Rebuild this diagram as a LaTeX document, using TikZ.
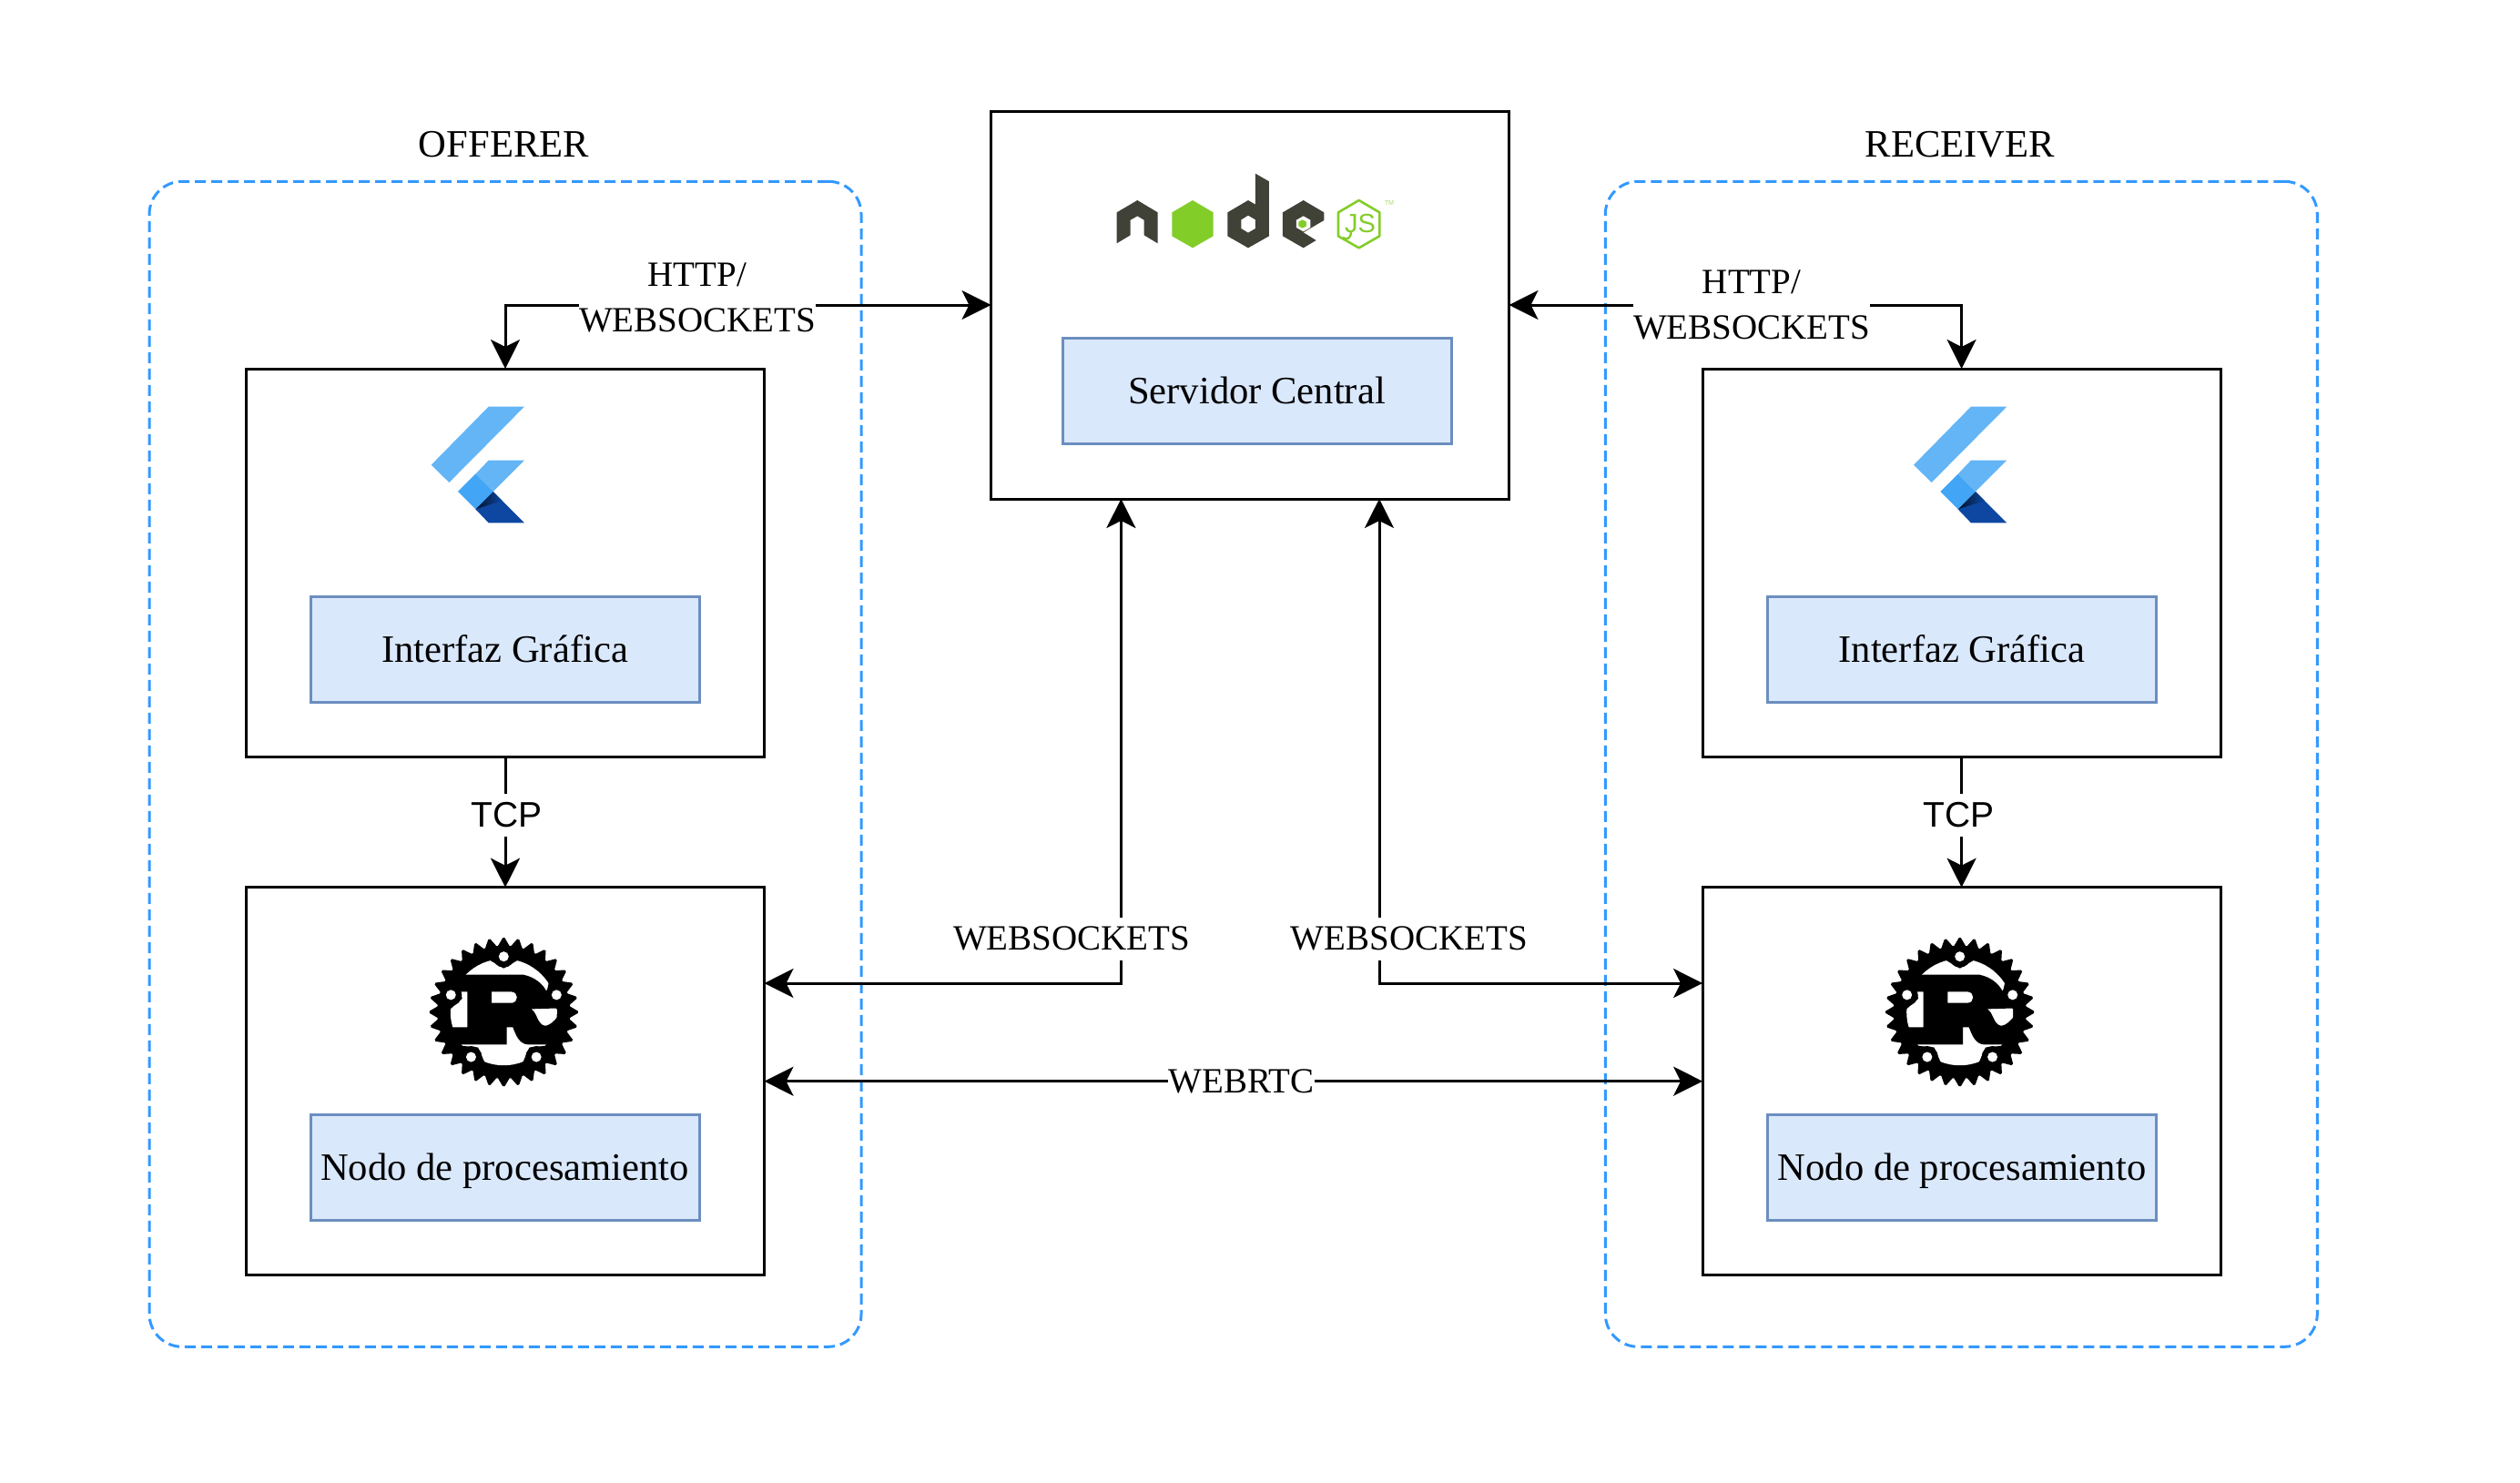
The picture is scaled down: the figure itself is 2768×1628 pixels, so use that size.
\documentclass[tikz,border=0pt]{standalone}
\usepackage{fontspec}
\setmainfont{Liberation Serif}
\newfontfamily\tcpfont{Liberation Sans}
\usetikzlibrary{arrows.meta}
\definecolor{groupblue}{HTML}{3399FF}
\definecolor{innerfill}{HTML}{DAE8FC}
\definecolor{innerdraw}{HTML}{6C8EBF}
\definecolor{flutlight}{HTML}{64B5F6}
\definecolor{flutmid}{HTML}{42A5F5}
\definecolor{flutdark}{HTML}{0D47A1}
\definecolor{nodedark}{HTML}{404137}
\definecolor{nodegreen}{HTML}{83CD29}
\newcommand{\nudge}{\hspace{2.5pt}}
\tikzset{
	outerbox/.style={draw=black, line width=1.5pt, minimum width=284.5pt, minimum height=213pt, inner sep=0pt, outer sep=0pt},
	innerbox/.style={draw=innerdraw, fill=innerfill, line width=1.5pt, minimum width=213.5pt, minimum height=58pt, inner sep=0pt, outer sep=0pt, text height=14.4pt, text depth=0pt, font=\fontsize{21.3}{25}\selectfont},
	groupbox/.style={draw=groupblue, line width=1.5pt, dash pattern=on 6pt off 3pt, rounded corners=18pt, minimum width=391pt, minimum height=640pt, inner sep=0pt, outer sep=0pt},
	grouplabel/.style={font=\fontsize{21.3}{25}\selectfont, inner sep=0pt},
	link/.style={line width=1.5pt, {Stealth[length=16pt,width=16pt,inset=4pt]}-{Stealth[length=16pt,width=16pt,inset=4pt]}},
	onelink/.style={line width=1.5pt, -{Stealth[length=16pt,width=16pt,inset=4pt]}},
	wirelabel/.style={fill=white, align=center, inner xsep=0pt, inner ysep=0pt, minimum height=23.5pt, font=\fontsize{19.5}{24.7}\selectfont},
	flutterlogo/.pic={
		\begin{scope}[scale=0.3333]
			\fill[flutlight] (290,50) -- (408,50) -- (160,300) -- (101,242) -- cycle;
			\fill[flutlight] (290,227) -- (408,227) -- (305,330) -- (247,272) -- cycle;
			\fill[flutdark] (247,388) -- (305,330) -- (408,433) -- (290,433) -- cycle;
			\shade[left color=black!75!flutdark, right color=flutdark] (247,388) -- (305,330) -- (335,360) -- cycle;
			\fill[flutmid] (247,272) -- (305,330) -- (247,388) -- (189,330) -- cycle;
		\end{scope}
	},
	rustlogo/.pic={
		\fill[black] (0,0) circle (73);
		\foreach \a in {0,11.25,...,348.75}
			\fill[black] (\a-5.2:72.5) -- (\a-0.8:81.5) -- (\a+0.8:81.5) -- (\a+5.2:72.5) -- cycle;
		\fill[white] (0,0) circle (58.5);
		\begin{scope}[scale=0.3333, shift={(-190,-185)}]
			% the letter, with its counter left open
			\fill[black, even odd rule] (30,62) -- (255,62) .. controls (295,70) and (320,95) .. (330,115) -- (375,115) -- (375,172) -- (280,175)
				.. controls (300,185) and (300,225) .. (325,230) .. controls (345,230) and (365,205) .. (375,190) -- (400,240) -- (340,292) -- (270,292)
				.. controls (240,290) and (230,260) .. (220,235) -- (200,235) -- (200,292) -- (40,292) -- (0,270) -- (0,235) -- (70,235) -- (70,118) -- (30,118) -- cycle
				(150,118) -- (215,118) .. controls (240,118) and (240,155) .. (215,155) -- (150,155) -- cycle;
		\end{scope}
		\foreach \a in {270,198,342,126,54} {
			\fill[black] (\a:48) -- (\a+16:60) -- (\a-16:60) -- cycle;
			\fill[black] (\a:61) circle (12);
			\fill[white] (\a:61) circle (5.5);
		}
	}
}
\begin{document}
\begin{tikzpicture}[x=0.5pt,y=-0.5pt]
	\useasboundingbox (0,0) rectangle (2768,1628);
	% dashed groups
	\node[groupbox] (offerer) at (555,839.3) {};
	\node[groupbox] (receiver) at (2154.3,839.3) {};
	\node[grouplabel] (offererlabel) at (553.5,159) {OFFERER};
	\node[grouplabel] (receiverlabel) at (2153,159) {RECEIVER};
	% boxes
	\node[outerbox] (central) at (1373,335) {};
	\node[innerbox] (centralin) at (1380.5,429) {Servidor Central\nudge};
	\node[outerbox] (uileft) at (555,618) {};
	\node[innerbox] (uileftin) at (554.5,713) {Interfaz Gráfica};
	\node[outerbox] (procleft) at (555,1187.7) {};
	\node[innerbox] (procleftin) at (554.5,1282) {Nodo de procesamiento\nudge};
	\node[outerbox] (uiright) at (2154.6,618) {};
	\node[innerbox] (uirightin) at (2155,713) {Interfaz Gráfica\nudge};
	\node[outerbox] (procright) at (2154.6,1187.7) {};
	\node[innerbox] (procrightin) at (2155,1282) {Nodo de procesamiento\nudge};
	% logos
	\pic at (440,430) {flutterlogo};
	\pic at (2068.3,430) {flutterlogo};
	\pic at (553.3,1111.7) {rustlogo};
	\pic at (2152.7,1111.7) {rustlogo};
	\begin{scope}[shift={(1210,180)}, scale=0.3333]
		\fill[nodedark] (50,160) -- (118,120) -- (185,160) -- (185,262) -- (140,235) -- (140,185) -- (118,172) -- (95,185) -- (95,235) -- (50,262) -- cycle;
		\fill[nodegreen] (300,120) -- (368,160) -- (368,238) -- (300,277) -- (232,238) -- (232,160) -- cycle;
		\fill[nodedark, even odd rule] (507,32) -- (552,58) -- (552,238) -- (483,277) -- (415,238) -- (415,160) -- (483,120) -- (507,134) -- cycle
			(483,170) -- (507,184) -- (507,213) -- (483,227) -- (460,213) -- (460,184) -- cycle;
		\fill[nodedark] (665,120) -- (733,160) -- (733,186) -- (665,226) -- (707,252) -- (665,277) -- (597,238) -- (597,160) -- cycle;
		\fill[white] (665,172) -- (688,185) -- (688,210) -- (665,223) -- (642,210) -- (642,185) -- cycle;
		\fill[nodegreen] (662,184) -- (675,191) -- (675,205) -- (662,212) -- (649,205) -- (649,191) -- cycle;
		\draw[nodegreen, line width=1.3pt, line join=round] (848,120) -- (916,160) -- (916,238) -- (848,277) -- (780,238) -- (780,160) -- cycle;
		\draw[nodegreen, line width=1.2pt] (822,222) .. controls (822,250) and (805,250) .. (795,243);
		\node[nodegreen, inner sep=0pt, font=\tcpfont\fontsize{14.5}{15}\selectfont] (jstext) at (852,197) {JS};
		\node[nodegreen!70, inner sep=0pt, font=\tcpfont\fontsize{3.6}{4}\selectfont] (tmtext) at (948,128) {TM};
	\end{scope}
	% connectors
	\draw[link] (central.west) -| (uileft.north);
	\draw[link] (central.east) -| (uiright.north);
	\draw[onelink] (uileft.south) -- (procleft.north);
	\draw[onelink] (uiright.south) -- (procright.north);
	\coordinate (wsleft) at (1231.4,1080);
	\coordinate (wsright) at (1515,1080);
	\draw[link] (central.south -| wsleft) -- (wsleft) -- (wsleft -| procleft.east);
	\draw[link] (central.south -| wsright) -- (wsright) -- (wsright -| procright.west);
	\draw[link] (procleft.east) -- (procright.west);
	% labels
	\node[wirelabel] (httpleft) at (766,327) {HTTP/\\WEBSOCKETS};
	\node[wirelabel] (httpright) at (1924,335) {HTTP/\\WEBSOCKETS};
	\node[wirelabel, font=\tcpfont\fontsize{19.5}{24.7}\selectfont] (tcpleft) at (556.3,895) {TCP};
	\node[wirelabel, font=\tcpfont\fontsize{19.5}{24.7}\selectfont] (tcpright) at (2151.8,895) {TCP};
	\node[wirelabel] (wsleftlabel) at (1177,1031) {WEBSOCKETS};
	\node[wirelabel] (wsrightlabel) at (1547.8,1031) {WEBSOCKETS};
	\node[wirelabel] (webrtc) at (1363.5,1188) {WEBRTC};
\end{tikzpicture}
\end{document}
